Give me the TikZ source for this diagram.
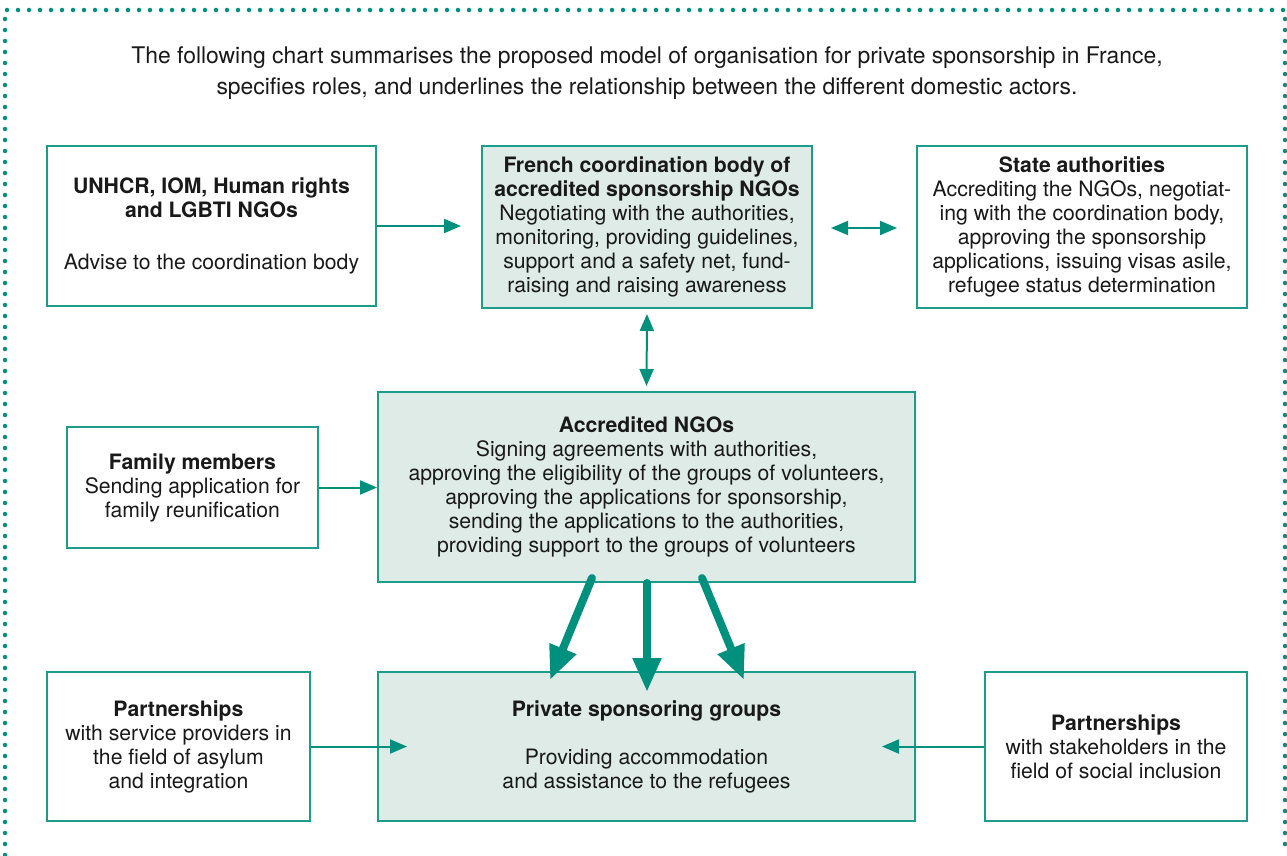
\documentclass[tikz,border=0pt]{standalone}
\usepackage{fontspec}
\setmainfont{TeX Gyre Heros}
\usetikzlibrary{arrows.meta,calc}
\definecolor{teal1}{RGB}{0,144,126}
\definecolor{boxline}{RGB}{30,156,138}
\definecolor{fillg}{RGB}{222,235,231}
\definecolor{txt}{RGB}{25,25,25}
\tikzset{
  box/.style={draw=boxline, line width=2pt, fill=white, align=center, text=txt,
    inner sep=0pt, font=\fontsize{21.2}{24}\selectfont},
  gbox/.style={box, fill=fillg},
  thin arrow/.style={draw=teal1, line width=2pt, -{Triangle[length=17pt,width=14pt]}},
  dbl arrow/.style={draw=teal1, line width=2pt, {Triangle[length=17pt,width=14pt]}-{Triangle[length=17pt,width=14pt]}},
  thick arrow/.style={draw=teal1, line width=8pt, line cap=round, -{Triangle[length=34pt,width=27pt]}},
}
\begin{document}
\begin{tikzpicture}[x=1pt,y=-1pt]
\useasboundingbox (0,0) rectangle (1287,855);
% dotted frame
\draw[teal1, line width=4.5pt, line cap=round, dash pattern=on 0pt off 11pt]
  (5,855) -- (5,10) -- (1285,10) -- (1285,855);
% title
\node[text=txt, align=center, font=\fontsize{22.9}{31}\selectfont] (title) at (647,73)
 {The following chart summarises the proposed model of organisation for private sponsorship in France,\\
  specifies roles, and underlines the relationship between the different domestic actors.};
% boxes
\node[box, minimum width=329pt, minimum height=160pt] (unhcr) at (211.5,226)
 {\textbf{UNHCR, IOM, Human rights}\\\textbf{and LGBTI NGOs}\\[28pt]Advise to the coordination body};
\node[gbox, minimum width=330pt, minimum height=162pt] (french) at (647,227)
 {\textbf{French coordination body of}\\\textbf{accredited sponsorship NGOs}\\
  Negotiating with the authorities,\\monitoring, providing guidelines,\\
  support and a safety net, fund-\\raising and raising awareness};
\node[box, minimum width=330pt, minimum height=162pt] (state) at (1082,227)
 {\textbf{State authorities}\\Accrediting the NGOs, negotiat-\\ing with the coordination body,\\
  approving the sponsorship\\applications, issuing visas asile,\\refugee status determination};
\node[gbox, minimum width=537pt, minimum height=190pt] (acc) at (646.5,487)
 {\textbf{Accredited NGOs}\\Signing agreements with authorities,\\
  approving the eligibility of the groups of volunteers,\\
  approving the applications for sponsorship,\\
  sending the applications to the authorities,\\
  providing support to the groups of volunteers};
\node[box, minimum width=251pt, minimum height=121pt] (family) at (192.5,487.5)
 {\textbf{Family members}\\Sending application for\\family reunification};
\node[gbox, minimum width=537pt, minimum height=149pt] (priv) at (646.5,746.5)
 {\textbf{Private sponsoring groups}\\[24pt]Providing accommodation\\and assistance to the refugees};
\node[box, minimum width=263pt, minimum height=149pt] (partl) at (178.5,746.5)
 {\textbf{Partnerships}\\with service providers in\\the field of asylum\\and integration};
\node[box, minimum width=262pt, minimum height=149pt] (partr) at (1116,746.5)
 {\textbf{Partnerships}\\with stakeholders in the\\field of social inclusion};
% connectors
\coordinate (c1) at ($(french.west)+(-20,-1)$);
\draw[thin arrow] (unhcr.east |- c1) -- (c1);
\coordinate (c2a) at ($(french.east)+(18,1)$);
\coordinate (c2b) at ($(state.west)+(-19,1)$);
\draw[dbl arrow] (c2a) -- (c2b);
\coordinate (c3a) at ($(french.south)+(0,5)$);
\coordinate (c3b) at ($(acc.north)+(0,-5)$);
\draw[dbl arrow] (c3a) -- (c3b);
\draw[thin arrow] (family.east) -- (acc.west |- family.east);
\coordinate (c4) at ($(priv.west)+(30,0)$);
\draw[thin arrow] (partl.east) -- (c4);
\coordinate (c5) at ($(priv.east)+(-34,0)$);
\draw[thin arrow] (partr.west) -- (c5);
% thick arrows
\coordinate (s1) at (592,578); \coordinate (t1) at (550,680);
\coordinate (s2) at (647,583); \coordinate (t2) at (647,692);
\coordinate (s3) at (702,578); \coordinate (t3) at (744,680);
\draw[thick arrow] (s1) -- (t1);
\draw[thick arrow] (s2) -- (t2);
\draw[thick arrow] (s3) -- (t3);
\end{tikzpicture}
\end{document}
